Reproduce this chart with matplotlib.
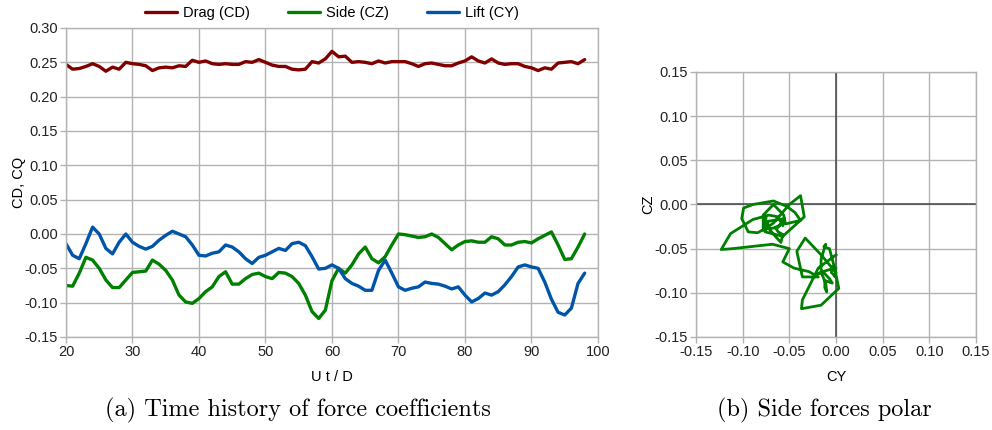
import matplotlib
matplotlib.use("Agg")
import matplotlib.pyplot as plt
from matplotlib.ticker import FormatStrFormatter, MultipleLocator

plt.rcParams['font.family'] = ['Liberation Sans', 'DejaVu Sans']
plt.rcParams['axes.unicode_minus'] = False

# time axis (U t / D)
t = list(range(20, 99))

# Drag (CD)
cd = [0.247, 0.240, 0.241, 0.244, 0.248, 0.244, 0.237, 0.243, 0.240, 0.250,
      0.248, 0.247, 0.245, 0.238, 0.242, 0.243, 0.242, 0.245, 0.244, 0.253,
      0.250, 0.252, 0.248, 0.247, 0.248, 0.247, 0.247, 0.251, 0.250, 0.254,
      0.250, 0.246, 0.244, 0.244, 0.240, 0.239, 0.240, 0.251, 0.249, 0.255,
      0.266, 0.258, 0.259, 0.250, 0.251, 0.250, 0.248, 0.252, 0.249, 0.251,
      0.251, 0.251, 0.248, 0.244, 0.248, 0.249, 0.247, 0.245, 0.245, 0.249,
      0.252, 0.258, 0.252, 0.249, 0.255, 0.249, 0.247, 0.248, 0.248, 0.244,
      0.242, 0.238, 0.242, 0.240, 0.249, 0.250, 0.251, 0.248, 0.254]

# Side (CZ)
cz = [-0.075, -0.076, -0.057, -0.034, -0.038, -0.050, -0.067, -0.078, -0.078, -0.067,
      -0.056, -0.055, -0.054, -0.038, -0.044, -0.053, -0.067, -0.089, -0.099, -0.101,
      -0.094, -0.084, -0.077, -0.062, -0.055, -0.073, -0.073, -0.065, -0.059, -0.057,
      -0.062, -0.065, -0.056, -0.057, -0.062, -0.072, -0.089, -0.113, -0.123, -0.111,
      -0.068, -0.050, -0.057, -0.045, -0.029, -0.019, -0.036, -0.042, -0.033, -0.016,
      0.000, -0.001, -0.003, -0.005, -0.004, 0.000, -0.005, -0.014, -0.023, -0.016,
      -0.011, -0.010, -0.012, -0.012, -0.004, -0.007, -0.016, -0.016, -0.012, -0.011,
      -0.013, -0.007, -0.002, 0.003, -0.016, -0.037, -0.036, -0.019, 0.000]

# Lift (CY)
cy = [-0.014, -0.031, -0.036, -0.014, 0.010, 0.000, -0.021, -0.029, -0.012, 0.000,
      -0.012, -0.018, -0.022, -0.018, -0.009, -0.002, 0.004, 0.000, -0.004, -0.016,
      -0.031, -0.032, -0.028, -0.026, -0.016, -0.019, -0.026, -0.036, -0.043, -0.034,
      -0.031, -0.026, -0.021, -0.024, -0.014, -0.012, -0.017, -0.033, -0.051, -0.050,
      -0.045, -0.050, -0.065, -0.072, -0.076, -0.082, -0.082, -0.053, -0.038, -0.057,
      -0.077, -0.082, -0.079, -0.077, -0.070, -0.072, -0.073, -0.076, -0.080, -0.077,
      -0.089, -0.099, -0.094, -0.086, -0.089, -0.084, -0.074, -0.062, -0.048, -0.045,
      -0.048, -0.050, -0.070, -0.095, -0.114, -0.118, -0.108, -0.072, -0.057]

grid_col = '#b3b3b3'
tick_size = 10.5

fig = plt.figure(figsize=(9.92, 4.30), dpi=100)

# (a) time history
ax1 = fig.add_axes([0.0665, 0.2163, 0.5363, 0.7186])
line_kw = dict(lw=2.4, solid_joinstyle='round', solid_capstyle='round')
ax1.plot(t, cd, color='#800000', label='Drag (CD)', **line_kw)
ax1.plot(t, cz, color='#008000', label='Side (CZ)', **line_kw)
ax1.plot(t, cy, color='#0055a8', label='Lift (CY)', **line_kw)
ax1.set_xlim(20, 100)
ax1.set_ylim(-0.15, 0.30)
ax1.xaxis.set_major_locator(MultipleLocator(10))
ax1.yaxis.set_major_locator(MultipleLocator(0.05))
ax1.yaxis.set_major_formatter(FormatStrFormatter('%.2f'))
ax1.set_xlabel('U t / D', fontsize=tick_size, labelpad=8)
ax1.set_ylabel('CD, CQ', fontsize=tick_size, labelpad=-1)
ax1.legend(loc='center', bbox_to_anchor=(0.5, 1.0 + 15 / 309), ncol=3, frameon=False,
           fontsize=tick_size, handlelength=2.2, columnspacing=2.6, handletextpad=0.4)

# (b) side forces polar
ax2 = fig.add_axes([0.7016, 0.2163, 0.2823, 0.6163])
ax2.plot(cz, cy, color='#008000', lw=2.0, solid_joinstyle='round')
ax2.axhline(0, color='#444444', lw=1.1, zorder=1.5)
ax2.axvline(0, color='#444444', lw=1.1, zorder=1.5)
ax2.set_xlim(-0.15, 0.15)
ax2.set_ylim(-0.15, 0.15)
ax2.xaxis.set_major_locator(MultipleLocator(0.05))
ax2.yaxis.set_major_locator(MultipleLocator(0.05))
ax2.xaxis.set_major_formatter(FormatStrFormatter('%.2f'))
ax2.yaxis.set_major_formatter(FormatStrFormatter('%.2f'))
ax2.set_xlabel('CY', fontsize=tick_size, labelpad=8)
ax2.set_ylabel('CZ', fontsize=tick_size, labelpad=-1)

for ax in (ax1, ax2):
    ax.grid(True, color=grid_col, lw=1.0)
    ax.set_axisbelow(True)
    for s in ax.spines.values():
        s.set_color(grid_col)
        s.set_linewidth(1.0)
    ax.tick_params(colors=grid_col, labelcolor='#222222', labelsize=tick_size,
                   length=4, width=1.0, direction='out', pad=2)

fig.text(0.300, 0.046, '(a) Time history of force coefficients', family='cmr10',
         fontsize=17.5, ha='center', va='center')
fig.text(0.831, 0.046, '(b) Side forces polar', family='cmr10',
         fontsize=17.5, ha='center', va='center')

fig.savefig('out.png', dpi=100)
